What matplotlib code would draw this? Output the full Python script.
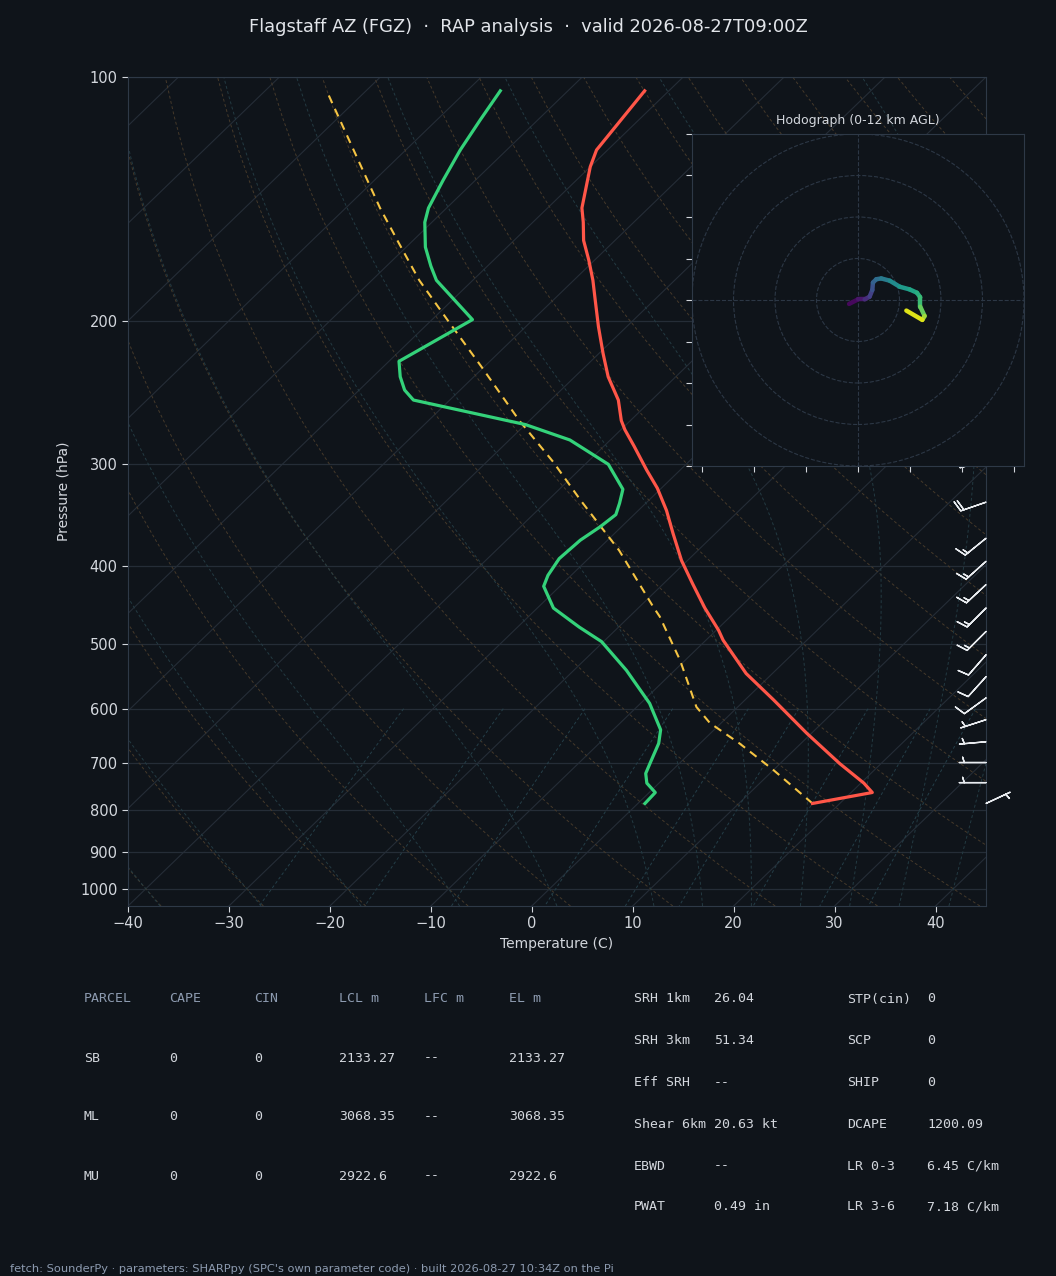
import numpy as np
import matplotlib
matplotlib.use('Agg')
import matplotlib.pyplot as plt
from matplotlib.transforms import Affine2D, blended_transform_factory
from matplotlib.collections import LineCollection
from matplotlib.ticker import NullLocator

BG = '#0f141a'
FG = '#d3d7dd'
MUTED = '#8d9bb0'
GRID = '#252d37'
SPINE = '#2e3947'

# --- sounding (hPa, degC), surface first ---
pres = [785, 761, 741, 701, 643, 585, 543, 494, 480, 451, 421, 394, 365, 342,
        321, 305, 285, 272, 265, 250, 234, 219, 203, 188, 178, 168, 159, 151,
        145, 129, 123, 104]
temp = [17.3, 22.1, 20.3, 15.9, 9.5, 2.8, -2.6, -8.3, -9.8, -13.4, -17.1, -20.6,
        -24.2, -27.2, -30.4, -33.3, -37.0, -39.6, -40.9, -43.3, -46.7, -49.6,
        -52.8, -55.9, -58.1, -60.6, -63.1, -65.0, -66.6, -70.0, -71.1, -72.4]

dew_pres = [785, 761, 741, 721, 701, 662, 637, 591, 538, 496, 476, 451, 424, 411,
            392, 372, 358, 346, 335, 322, 300, 280, 268, 250, 243, 234, 224, 199,
            178, 171, 162, 151, 145, 134, 123, 113, 104]
dewpt = [0.7, 0.6, -1.2, -2.3, -2.9, -4.1, -5.3, -9.1, -14.8, -20.2, -23.9, -28.4,
         -31.6, -32.3, -32.9, -32.7, -32.1, -31.8, -32.6, -33.7, -37.7, -44.0,
         -50.0, -63.6, -65.5, -67.3, -69.0, -66.0, -73.6, -75.6, -78.1, -80.7,
         -81.8, -83.2, -84.6, -85.7, -86.7]

parcel_pres = [785, 714, 662, 625, 597, 523, 462, 449, 383, 332, 298, 265, 227,
               199, 178, 160, 145, 127, 104]
parcel_temp = [17.3, 10.0, 3.9, -1.1, -4.1, -10.5, -17.0, -18.7, -27.8, -36.8,
               -43.4, -51.0, -60.4, -68.5, -75.3, -81.2, -86.6, -93.5, -103.9]

# --- winds ---
barb_pres = [785, 740, 699, 659, 619, 582, 548, 515, 482, 451, 422, 395, 370, 334, 297]
barb_speed = [5, 5, 5, 5, 6, 10, 10, 10, 15, 15, 15, 15, 15, 20, 22]
barb_dir = [65, 270, 270, 265, 252, 234, 222, 221, 225, 225, 227, 228, 231, 251, 255]

hodo_u = [-4.3, 0.0, 3.2, 5.6, 6.9, 7.2, 8.8, 11.2, 15.3, 20.1, 24.9, 28.4, 30.0,
          30.0, 32.1, 31.0, 23.3]
hodo_v = [-1.9, 0.3, 0.3, 1.6, 4.8, 8.4, 10.0, 10.4, 9.3, 6.4, 5.1, 3.5, 1.3,
          -3.2, -7.7, -9.6, -5.1]
hodo_z = [0.0, 0.5, 1.0, 2.0, 2.6, 3.4, 4.0, 4.6, 5.3, 6.2, 6.8, 7.3, 7.8, 8.6,
          9.8, 10.8, 12.0]

# --- parameter tables ---
table_cols = ['PARCEL', 'CAPE', 'CIN', 'LCL m', 'LFC m', 'EL m']
parcels = ['SB', 'ML', 'MU']
cape = [0, 0, 0]
cin = [0, 0, 0]
lcl_m = [2133.27, 3068.35, 2922.6]
lfc_m = ['--', '--', '--']
el_m = [2133.27, 3068.35, 2922.6]

kin_names = ['SRH 1km', 'SRH 3km', 'Eff SRH', 'Shear 6km', 'EBWD', 'PWAT']
kin_vals = ['26.04', '51.34', '--', '20.63 kt', '--', '0.49 in']
comp_names = ['STP(cin)', 'SCP', 'SHIP', 'DCAPE', 'LR 0-3', 'LR 3-6']
comp_vals = ['0', '0', '0', '1200.09', '6.45 C/km', '7.18 C/km']

RD, CP, LV, EPS = 287.04, 1005.7, 2.501e6, 0.622


def moist_adiabats(t0_c, p):
    # integrate the saturated lapse rate from 1000 hPa both ways
    def dtdp(T, pp):
        es = 6.112 * np.exp(17.67 * (T - 273.15) / (T - 29.65))
        rs = EPS * es / (pp - es)
        return (RD * T + LV * rs) / (CP + LV * LV * rs * EPS / (RD * T * T)) / pp

    def run(levels):
        T = np.asarray(t0_c, float) + 273.15
        out = [T.copy()]
        for a, b in zip(levels[:-1], levels[1:]):
            h = b - a
            k1 = dtdp(T, a)
            k2 = dtdp(T + 0.5 * h * k1, a + 0.5 * h)
            k3 = dtdp(T + 0.5 * h * k2, a + 0.5 * h)
            k4 = dtdp(T + h * k3, b)
            T = T + h / 6 * (k1 + 2 * k2 + 2 * k3 + k4)
            out.append(T.copy())
        return np.array(out) - 273.15

    lv_up = np.linspace(1000, p.min(), 200)
    lv_down = np.linspace(1000, p.max(), 20)
    up = run(lv_up)
    down = run(lv_down)
    pp = np.concatenate([lv_down[::-1], lv_up[1:]])
    tt = np.concatenate([down[::-1], up[1:]])
    return pp, tt


fig = plt.figure(figsize=(10.56, 12.76), dpi=100, facecolor=BG)
ax = fig.add_axes([128 / 1056, 1 - 906 / 1276, 858 / 1056, 829 / 1276])
ax.set_facecolor(BG)
ax.set_yscale('log')
ax.set_xlim(-40, 45)
ax.set_ylim(1050, 100)
ax.autoscale(False)

skew = ax.transScale + (ax.transLimits + Affine2D().skew_deg(45, 0)) + ax.transAxes

# background lines
for t in range(-120, 50, 10):
    ax.plot([t, t], [1050, 100], transform=skew, color=GRID, lw=0.8, zorder=1)

dash = (0, (3, 2.5))
p_full = np.linspace(1050, 100, 80)
for t0 in np.arange(-40, 201, 10):
    tt = (t0 + 273.15) * (p_full / 1000.0) ** 0.2857 - 273.15
    ax.plot(tt, p_full, transform=skew, color='#45392a', lw=0.7, ls=dash, zorder=1)

pm, tm = moist_adiabats(np.concatenate([np.arange(-50, 11, 10), np.arange(15, 46, 5)]), p_full)
for i in range(tm.shape[1]):
    ax.plot(tm[:, i], pm, transform=skew, color='#233a42', lw=0.7, ls=dash, zorder=1)

p_mix = np.linspace(600, 1050, 30)
for w in [0.0004, 0.001, 0.002, 0.004, 0.007, 0.01, 0.016, 0.024, 0.032]:
    e = p_mix * w / (EPS + w)
    lg = np.log(e / 6.112)
    td = 243.5 * lg / (17.67 - lg)
    ax.plot(td, p_mix, transform=skew, color='#243e48', lw=0.7, ls=dash, zorder=1)

ax.yaxis.grid(True, color=GRID, lw=0.9)
ax.set_axisbelow(True)

# profiles
ax.plot(parcel_temp, parcel_pres, transform=skew, color='#f5c443', lw=1.5,
        ls=(0, (4, 3)), zorder=4)
ax.plot(temp, pres, transform=skew, color='#ff5648', lw=2.3, zorder=5)
ax.plot(dewpt, dew_pres, transform=skew, color='#34d27a', lw=2.3, zorder=5)

# wind barbs on the right edge
wd = np.deg2rad(barb_dir)
bu = -np.array(barb_speed) * np.sin(wd)
bv = -np.array(barb_speed) * np.cos(wd)
ax.barbs(np.ones(len(barb_pres)), barb_pres, bu, bv, length=6.2,
         transform=blended_transform_factory(ax.transAxes, ax.transData),
         color='#e8ebef', lw=1.0, clip_on=False, zorder=6)

ax.set_xticks(range(-40, 41, 10))
ax.set_yticks(range(100, 1001, 100), [str(v) for v in range(100, 1001, 100)])
ax.yaxis.set_minor_locator(NullLocator())
ax.tick_params(colors=FG, labelsize=10.5, length=4)
for s in ax.spines.values():
    s.set_color(SPINE)
ax.set_xlabel('Temperature (C)', color=FG, fontsize=10, labelpad=4)
ax.set_ylabel('Pressure (hPa)', color=FG, fontsize=10, labelpad=7)

# hodograph inset
hx = fig.add_axes([692 / 1056, 1 - 466 / 1276, 332 / 1056, 332 / 1276])
hx.set_facecolor(BG)
hx.set_xlim(-80, 80)
hx.set_ylim(-80, 80)
for r in (20, 40, 60, 80):
    hx.add_patch(plt.Circle((0, 0), r, fill=False, ec='#2c3745', lw=0.8, ls='--'))
hx.axhline(0, color='#2c3745', lw=0.8, ls='--')
hx.axvline(0, color='#2c3745', lw=0.8, ls='--')
pts = np.column_stack([hodo_u, hodo_v])
segs = np.stack([pts[:-1], pts[1:]], axis=1)
zmid = 0.5 * (np.array(hodo_z[:-1]) + np.array(hodo_z[1:]))
lc = LineCollection(segs, cmap='viridis', lw=3.2, capstyle='round')
lc.set_array(zmid)
lc.set_clim(0, 12)
hx.add_collection(lc)
hx.set_xticks(np.arange(-75, 76, 25))
hx.set_yticks(np.arange(-80, 81, 20))
hx.set_xticklabels([])
hx.set_yticklabels([])
hx.tick_params(colors=FG, length=4)
for s in hx.spines.values():
    s.set_color(SPINE)
hx.set_title('Hodograph (0-12 km AGL)', color=FG, fontsize=9, pad=7)

fig.text(0.5, 1 - 27 / 1276, 'Flagstaff AZ (FGZ)  \u00b7  RAP analysis  \u00b7  valid 2026-08-27T09:00Z',
         ha='center', va='center', color='#e2e5ea', fontsize=12.9)

# tables
mono = 'DejaVu Sans Mono'
col_x = [84, 169, 254, 339, 424, 509]
row_y = [999, 1058, 1117, 1176]
for x, name in zip(col_x, table_cols):
    fig.text(x / 1056, 1 - row_y[0] / 1276, name, family=mono, fontsize=9.5,
             color=MUTED, va='center')
for i, name in enumerate(parcels):
    cells = [name, str(cape[i]), str(cin[i]), str(lcl_m[i]), lfc_m[i], str(el_m[i])]
    for x, c in zip(col_x, cells):
        fig.text(x / 1056, 1 - row_y[i + 1] / 1276, c, family=mono, fontsize=9.5,
                 color=FG, va='center')

prm_y = [999, 1041, 1083, 1124, 1166, 1207]
for y, a, b, c, d in zip(prm_y, kin_names, kin_vals, comp_names, comp_vals):
    for x, s in zip((634, 714, 847, 927), (a, b, c, d)):
        fig.text(x / 1056, 1 - y / 1276, s, family=mono, fontsize=9.5, color=FG, va='center')

fig.text(10 / 1056, 1 - 1269 / 1276,
         "fetch: SounderPy \u00b7 parameters: SHARPpy (SPC's own parameter code) \u00b7 built 2026-08-27 10:34Z on the Pi",
         color=MUTED, fontsize=8.2, va='center')

fig.savefig('out.png', dpi=100, facecolor=BG)
